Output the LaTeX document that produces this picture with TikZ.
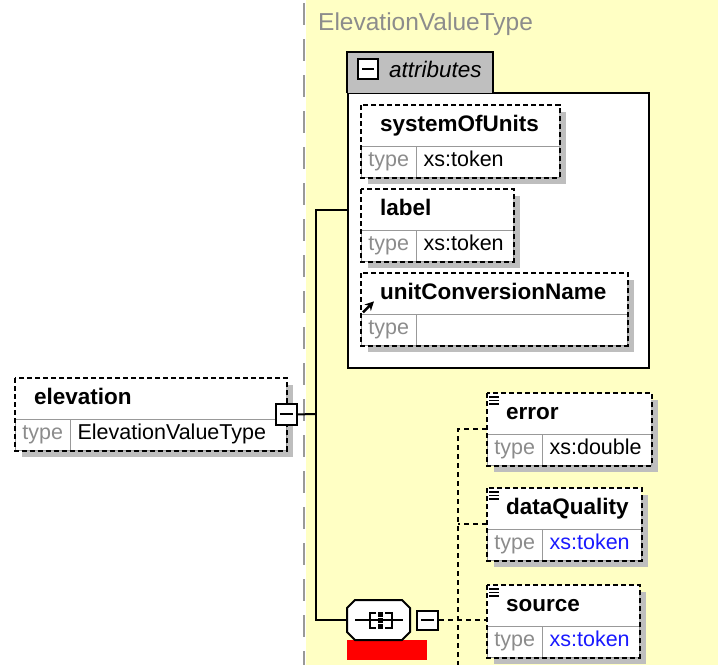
\documentclass[tikz,border=0pt]{standalone}
\usepackage{fontspec}
\setmainfont{Liberation Sans}
\usetikzlibrary{positioning,arrows.meta}
\definecolor{xsyellow}{HTML}{FFFFC4}
\definecolor{xsblue}{HTML}{1A1AFF}
\definecolor{xsshadow}{HTML}{BEBEBE}
\newcommand\xsname{\fontsize{22.5}{27}\selectfont\bfseries}
\newcommand\xstype{\fontsize{21.5}{25}\selectfont}
\newcommand\xstitle{\fontsize{24.5}{29}\selectfont}
\newcommand\xsattr{\fontsize{22.5}{27}\selectfont\itshape}
\tikzset {
	namecell/.style={rectangle, fill=white, anchor=north west, minimum height=41pt, inner xsep=19pt, inner ysep=0pt,
					align=left, text height=1.1em, text depth=0pt, font=\xsname},
	typecell/.style={rectangle, draw=black!40, fill=white, anchor=north west, minimum width=55pt, minimum height=31pt,
					inner sep=0pt, text=black!45, text height=.9em, text depth=0pt, font=\xstype},
	valuecell/.style={rectangle, draw=black!40, fill=white, anchor=north west, minimum height=31pt, inner xsep=7pt,
					inner ysep=0pt, align=left, text height=.9em, text depth=0pt, font=\xstype},
	outline/.style={draw, line width=2pt, dash pattern=on 5pt off 3pt},
	shadowfill/.style={fill=xsshadow},
	conn/.style={draw, line width=2pt},
	optconn/.style={draw, line width=2pt, dash pattern=on 5pt off 4pt},
	minusbox/.style={rectangle, draw, fill=white, line width=2pt, minimum size=21pt, inner sep=0pt,
					path picture={\draw[line width=2pt] ([xshift=4pt]path picture bounding box.west) -- ([xshift=-4pt]path picture bounding box.east);}},
	seqbox/.style={rectangle, minimum width=63pt, minimum height=40pt, inner sep=0pt}
}
% element box: key, x, y, width, name, type
\newcommand\xselem[6]{%
	\fill[shadowfill] (#2+7,#3+7) rectangle ++(#4,72);
	\pgfmathsetmacro\xsnw{#4-38}\pgfmathsetmacro\xsvw{#4-69}
	\node[namecell, text width=\xsnw pt] (#1) at (#2,#3) {#5};
	\node[typecell] (#1-t) at (#1.south west) {type};
	\node[valuecell, text width=\xsvw pt] (#1-v) at (#1-t.north east) {#6};
	\draw[outline] (#1.north west) rectangle (#1-v.south east);
}
\newcommand\xslist[1]{%
	\foreach \k in {4,7.5,11} \draw[line width=1.5pt] ([xshift=2pt,yshift=-\k pt]#1.north west) -- ++(10,0);
}

\begin{document}
\begin{tikzpicture}[x=1pt, y=-1pt]
	\useasboundingbox (0,0) rectangle (718,665);
	\fill[xsyellow] (306,0) rectangle (718,665);
	\draw[black!40, line width=2.5pt, dash pattern=on 22pt off 14pt] (304,3) -- (304,665);
	\node[anchor=base west, font=\xstitle, text=black!45, inner sep=0pt] (title) at (318,30) {ElevationValueType};

	% attribute group
	\node[draw, line width=2pt, fill=white, anchor=north west, minimum width=301pt, minimum height=275pt, inner sep=0pt] (attrs) at (347,92) {};
	\node[fill=black!25, anchor=south west, minimum width=146pt, minimum height=41pt, inner sep=0pt] (attrtab) at ([yshift=-1pt]attrs.north west) {};
	\draw[line width=2pt] (attrtab.south west) -- (attrtab.north west) -- (attrtab.north east) -- (attrtab.south east);
	\node[minusbox, minimum size=20pt, right=10pt of attrtab.west, yshift=3pt] (amin) {};
	\node[right=10pt of amin, font=\xsattr, inner sep=0pt] (attrlbl) {attributes};

	\xselem{sys}{361}{105}{198}{systemOfUnits}{xs:token}
	\xselem{lbl}{361}{189}{152}{label}{xs:token}
	\xselem{ucn}{361}{273}{266}{unitConversionName}{}
	\draw[line width=2.5pt, -{Stealth[length=9pt,width=9pt]}] ([xshift=2pt,yshift=2pt]ucn.south west) -- ++(11,-11);

	% element and sequence
	\xselem{elev}{15}{378}{271}{elevation}{ElevationValueType}
	\node[minusbox, yshift=5pt] (emin) at (elev.south east) {};
	\coordinate (trunk) at (316,414);

	\node[seqbox] (seq) at (378.5,620) {};
	\fill[red] (seq.south west) rectangle ++(80,20);
	\begin{scope}[shift={(seq.center)}, line width=2pt]
		\filldraw[fill=white] (-31.5,-12) -- (-23.5,-20) -- (23.5,-20) -- (31.5,-12) -- (31.5,12) -- (23.5,20) -- (-23.5,20) -- (-31.5,12) -- cycle;
		\draw (-23.5,0) -- (24.5,0);
		\draw (-2.5,-7.5) -- (-8.5,-7.5) -- (-8.5,7.5) -- (-2.5,7.5);
		\draw (6.5,-7.5) -- (13.5,-7.5) -- (13.5,7.5) -- (6.5,7.5);
		\foreach \k in {-8.5,-2.5,3.5} \fill (-1,\k) rectangle ++(5,5);
	\end{scope}
	\node[minusbox, right=6pt of seq, minimum width=21pt, minimum height=19pt] (smin) {};

	\xselem{err}{487}{393}{164}{error}{xs:double}
	\xselem{dq}{487}{488}{154}{dataQuality}{\color{xsblue}xs:token}
	\xselem{src}{487}{585}{152}{source}{\color{xsblue}xs:token}
	\xslist{err}
	\xslist{dq}
	\xslist{src}
	\coordinate (bus) at (458,665);

	% connectors
	\draw[conn] (emin.east) -- (trunk);
	\draw[conn] (attrs.west |- lbl) -| (trunk |- seq) -- (seq.west);
	\draw[optconn] ([yshift=5pt]err.south west) -| (bus);
	\draw[optconn] ([yshift=5pt]dq.south west) -- ([yshift=5pt]dq.south west -| bus);
	\draw[optconn] (smin.east) -- (smin.east -| src.west);
\end{tikzpicture}
\end{document}
